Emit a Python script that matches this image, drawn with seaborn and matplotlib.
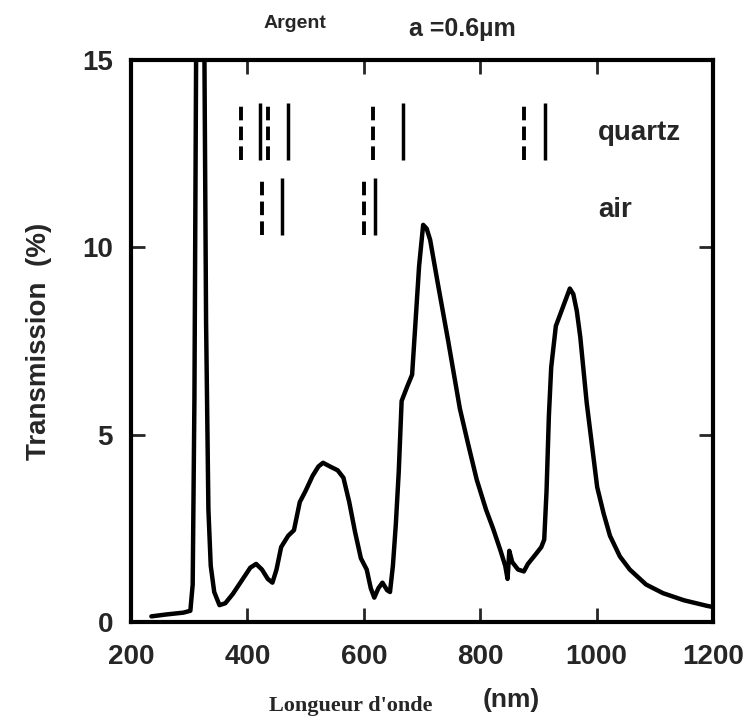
import numpy as np
import pandas as pd
import matplotlib
matplotlib.use("Agg")
import matplotlib.pyplot as plt
import seaborn as sns

# =========================
# données
# =========================
longueur_onde = [235, 260, 290, 302, 306, 309, 312, 316, 322, 326, 329, 333, 337, 343,
                 352, 362, 375, 390, 405, 415, 425, 435, 443, 450, 458, 470, 480, 490,
                 500, 512, 522, 530, 542, 555, 565, 575, 585, 595, 605, 612, 618, 625,
                 632, 640, 645, 650, 655, 660, 665, 675, 683, 688, 695, 702, 708, 714,
                 727, 745, 765, 780, 794, 810, 822, 835, 843, 847, 850, 855, 865, 875,
                 882, 895, 905, 910, 914, 918, 922, 930, 942, 948, 954, 960, 966, 972,
                 983, 1001, 1012, 1023, 1040, 1057, 1085, 1114, 1150, 1190, 1200]
transmission = [0.15, 0.2, 0.25, 0.3, 1.0, 6.0, 15.5, 30, 30, 15.5, 8, 3.0, 1.5, 0.8,
                0.45, 0.5, 0.75, 1.1, 1.45, 1.55, 1.4, 1.15, 1.05, 1.4, 2.0, 2.3, 2.45, 3.2,
                3.5, 3.9, 4.15, 4.25, 4.15, 4.05, 3.85, 3.2, 2.4, 1.7, 1.4, 0.9, 0.65, 0.9,
                1.05, 0.85, 0.8, 1.5, 2.6, 4.0, 5.9, 6.3, 6.6, 7.8, 9.5, 10.6, 10.5, 10.2,
                9.05, 7.5, 5.7, 4.7, 3.8, 3.0, 2.5, 1.9, 1.5, 1.15, 1.9, 1.6, 1.4, 1.35,
                1.55, 1.8, 2.0, 2.2, 3.5, 5.5, 6.8, 7.9, 8.4, 8.65, 8.9, 8.75, 8.3, 7.6,
                5.85, 3.6, 2.9, 2.3, 1.75, 1.4, 1.0, 0.77, 0.58, 0.43, 0.4]

# positions des résonances (traits verticaux)
quartz_pointille = [389, 435, 615, 875]
quartz_trait = [421, 470, 667, 911]
air_pointille = [425, 600]
air_trait = [459, 619]

quartz_y = (12.33, 13.85)
air_y = (10.33, 11.85)

xticks = [200, 400, 600, 800, 1000, 1200]
yticks = [0, 5, 10, 15]

df = pd.DataFrame({"lambda": longueur_onde, "T": transmission})

# =========================
# style
# =========================
sns.set_style("ticks")
plt.rcParams["font.family"] = ["Liberation Sans", "DejaVu Sans"]

fig = plt.figure(figsize=(7.52, 7.22), dpi=100)
ax = fig.add_axes([131 / 752, 1 - 622 / 722, (713 - 131) / 752, (622 - 60) / 722])

sns.lineplot(data=df, x="lambda", y="T", ax=ax, color="black", linewidth=3.2,
             sort=False, estimator=None)

ax.vlines(quartz_pointille, *quartz_y, colors="black", linewidth=2.8,
          linestyles=(0, (3.5, 1.6)))
ax.vlines(quartz_trait, *quartz_y, colors="black", linewidth=2.5)
ax.vlines(air_pointille, *air_y, colors="black", linewidth=2.8,
          linestyles=(0, (3.5, 1.6)))
ax.vlines(air_trait, *air_y, colors="black", linewidth=2.5)

ax.text(1002, 13.05, "quartz", fontsize=20, fontweight="bold", va="center", ha="left")
ax.text(1002, 11.0, "air", fontsize=20, fontweight="bold", va="center", ha="left")

ax.set_xlim(200, 1200)
ax.set_ylim(0, 15)
ax.set_xticks(xticks)
ax.set_yticks(yticks)
ax.tick_params(direction="in", length=10, width=2, labelsize=20,
               top=True, right=True)
ax.tick_params(axis="x", pad=16)
ax.tick_params(axis="y", pad=13)
for lab in ax.get_xticklabels() + ax.get_yticklabels():
    lab.set_fontweight("bold")
for s in ax.spines.values():
    s.set_linewidth(3)
    s.set_color("black")

ax.set_xlabel("")
ax.set_ylabel("Transmission  (%)", fontsize=20, fontweight="bold", labelpad=22)

fig.text(295 / 752, 1 - 23 / 722, "Argent", fontsize=14, fontweight="bold",
         ha="center", va="center")
fig.text(462 / 752, 1 - 29 / 722, "a =0.6\u00b5m", fontsize=18, fontweight="bold",
         ha="center", va="center")
fig.text(351 / 752, 1 - 706 / 722, "Longueur d'onde", fontsize=16, fontweight="bold",
         family="Liberation Serif", ha="center", va="center")
fig.text(511 / 752, 1 - 700 / 722, "(nm)", fontsize=19, fontweight="bold",
         ha="center", va="center")

plt.savefig("out.png", dpi=100)
